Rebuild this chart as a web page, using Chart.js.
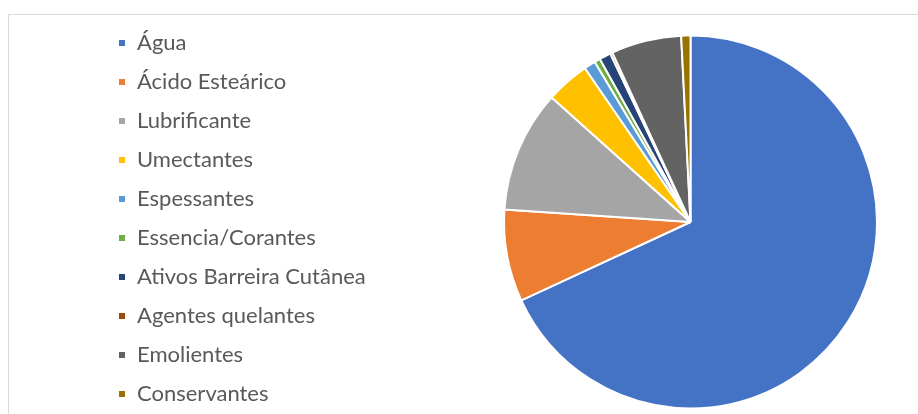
<!DOCTYPE html>
<html>
<head>
<meta charset="utf-8">
<script src="https://cdn.jsdelivr.net/npm/chart.js@4/dist/chart.umd.min.js"></script>
<style>
  html, body { margin: 0; padding: 0; background: #fff; overflow: hidden; }
  #frame {
    position: absolute; left: 8px; top: 14px; width: 1000px; height: 500px;
    border-top: 1px solid #d9d9d9; border-left: 1px solid #d9d9d9;
  }
  #wrap { position: absolute; left: 0; top: 0; width: 918px; height: 440px; }
</style>
</head>
<body>
<div id="frame"></div>
<div id="wrap"><canvas id="myChart" width="918" height="440"></canvas></div>
<script>
// ingredientes da formulação (% aproximado)
var categories = ["Água", "Ácido Esteárico", "Lubrificante", "Umectantes", "Espessantes",
  "Essencia/Corantes", "Ativos Barreira Cutânea", "Agentes quelantes", "Emolientes", "Conservantes"];
var values = [68.3, 8.0, 10.6, 3.8, 1.0, 0.5, 1.0, 0.2, 6.1, 0.8];
var sliceColors = ["#4472C4", "#ED7D31", "#A5A5A5", "#FFC000", "#5B9BD5",
  "#70AD47", "#264478", "#9E480E", "#636363", "#997300"];

// the legend is wider than its text in the original, so force its box width
var legendWidth = {
  id: "legendWidth",
  beforeUpdate: function(chart) {
    var legend = chart.legend;
    if (legend && !legend._patched) {
      var fit = legend.fit;
      legend.fit = function() {
        fit.call(this);
        this.width = 402;
      };
      legend._patched = true;
    }
  }
};

new Chart("myChart", {
  type: "pie",
  data: {
    labels: categories,
    datasets: [{
      data: values,
      backgroundColor: sliceColors,
      borderColor: "#ffffff",
      borderWidth: 2
    }]
  },
  options: {
    responsive: false,
    animation: false,
    layout: { padding: { left: 101, right: 40, top: 15, bottom: 11 } },
    plugins: {
      tooltip: { enabled: false },
      legend: {
        position: "left",
        align: "start",
        labels: {
          boxWidth: 8,
          boxHeight: 8,
          padding: 17,
          color: "#595959",
          font: { family: "Lato", size: 22 }
        }
      }
    }
  },
  plugins: [legendWidth]
});
</script>
</body>
</html>
